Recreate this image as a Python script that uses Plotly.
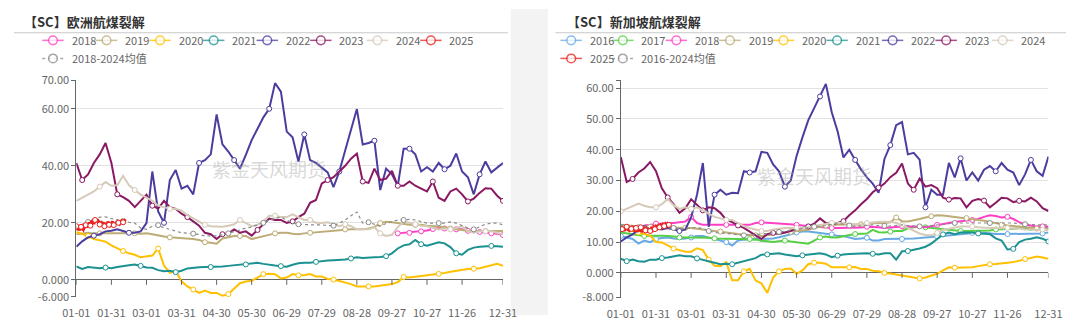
import plotly.graph_objects as go
import pandas as pd

# ---------------- categories / ticks ----------------
categories = pd.date_range("2024-01-01", "2024-12-31").strftime("%m-%d").tolist()
sample_idx = list(range(0, 361, 5)) + [365]
sample_dates = [categories[i] for i in sample_idx]
tick_dates = ["01-01", "01-31", "03-01", "03-31", "04-30", "05-30", "06-29",
              "07-29", "08-28", "09-27", "10-27", "11-26", "12-31"]

left_yticks = [-6, 0, 20, 40, 60, 70]
left_yticktext = ["-6.000", "0.000", "20.00", "40.00", "60.00", "70.00"]
right_yticks = [-8, 0, 10, 20, 30, 40, 50, 60, 62.56]
right_yticktext = ["-8.000", "0.000", "10.00", "20.00", "30.00", "40.00", "50.00", "60.00", ""]

# ---------------- Europe (left) ----------------
eu_2018 = [None] * 55 + [16.3, 16.5, 16.5, 16.8, 17, 17.3, 17.8, 18.2, 18, 17.7,
                         17.7, 17.7, 17.2, 17, 16.8, 16.5, 16.3, 16.2, 15.7]
eu_2019 = [16, 16.2, 16.5, 16.3, 16.3, 16.5, 16.5, 16.3, 16.3, 16.5,
           16.3, 16.2, 16.3, 16, 15.5, 15.2, 14.9, 14.8, 14.6, 14.4,
           14.3, 14, 13.2, 13, 12.7, 14.5, 15, 15.4, 15.4, 15.4,
           14.3, 14.8, 15.2, 15.6, 16.3, 16.5, 16.5, 16.2, 16, 16.3,
           16.5, 16.5, 16.8, 17.1, 17.2, 17.5, 17.7, 17.7, 17.7, 17.7,
           18, 18.5, 19.9, 20.4, 20.2, 19.9, 19.5, 19.3, 19.3, 19.3,
           19, 18.8, 18.6, 18.5, 18, 17.7, 17.5, 17.2, 17.1, 17.1,
           17.1, 17, 17.1, 17.1]
eu_2020 = [16.8, 16.2, 15.4, 14.3, 13.8, 13.4, 12.1, 11, 10.1, 9.3,
           8.8, 7.9, 8.3, 8.5, 11, 5, 2.5, 3.2, -0.5, -2.3,
           -3.4, -4.6, -3.8, -4.6, -4.6, -5.6, -5.0, -3.0, -1.2, -0.6,
           -0.3, 0.8, 2.0, 2.1, 2.0, 0.5, 0.8, 2.0, 1.6, 1.6,
           2.0, 1.2, 1.2, 0.3, 0.1, -0.4, -0.9, -1.5, -2.3, -2.2,
           -2.3, -2.3, -2.1, -1.8, -1.5, -0.8, 1.0, 0.8, 1.0, 1.2,
           1.6, 1.9, 2.1, 2.4, 2.8, 3.2, 3.5, 3.8, 3.9, 4.1,
           4.6, 5.0, 5.6, 4.9]
eu_2021 = [4.7, 3.8, 4.5, 4.3, 4.1, 4.3, 4.1, 4.5, 4.9, 5.1,
           5.4, 4.9, 4.3, 4.2, 3.4, 3.0, 3.2, 2.7, 3.2, 4.0,
           4.3, 4.4, 4.5, 4.5, 4.5, 4.7, 4.9, 5.1, 5.3, 5.4,
           5.8, 6.0, 5.6, 5.2, 5.0, 4.8, 4.6, 5.3, 5.8, 6.0,
           6.0, 6.3, 6.6, 6.8, 6.9, 7.0, 7.1, 7.5, 7.9, 7.7,
           7.7, 7.9, 8.0, 8.3, 9.3, 11, 12.1, 12.5, 14, 12.5,
           12, 12.5, 13.2, 12.8, 11.5, 9.3, 8.8, 10.5, 11.3, 11.6,
           11.8, 11.9, 11.8, 11.6]
eu_2022 = [11.6, 13.5, 14.9, 15.5, 16, 17, 17.2, 17.7, 17, 16.5,
           16.5, 17, 19.9, 38, 24, 20, 35, 38.5, 32, 33,
           30, 41, 42, 44, 58, 47.5, 45, 42, 39, 43.8,
           49, 53, 57, 60, 69, 66, 52, 50, 41.5, 51,
           42, 41, 39.5, 37.7, 32.5, 38, 45.4, 53, 59.9, 47.5,
           48, 48.8, 31.5, 39, 37, 33, 46, 46, 44, 38,
           39.5, 38, 41, 38.8, 40, 44.3, 38, 36, 30, 37,
           41.5, 37.7, 39.5, 41]
eu_2023 = [41, 35, 37, 41, 44, 48, 41, 30, 29, 27.7,
           25.5, 27.7, 29.9, 26, 25, 27.7, 25.5, 24.9, 23.2, 22,
           20.5, 19, 16.5, 16, 14.3, 16, 16.3, 17.7, 16.5, 17,
           15.5, 17.5, 19.5, 21.5, 21, 21, 20, 20.5, 22, 23.2,
           27, 28, 33.8, 35, 36, 38, 40, 42.5, 44.3, 34.5,
           34, 39, 35, 35.5, 38.2, 33, 33, 34.5, 33, 32,
           31, 34.5, 28.8, 27.7, 31, 32, 30, 27.5, 28.5, 30.5,
           32.1, 32, 29.5, 27.7]
eu_2024 = [27.7, 28.8, 29.9, 31, 32.7, 34.3, 33, 33.2, 36.5, 33.2,
           31.5, 29.9, 28.8, 27.7, 26, 25.4, 24.9, 24.9, 24.3, 22.7,
           21.5, 20.4, 19.3, 18.8, 18.8, 18.6, 19, 19.5, 21, 19.9,
           18.8, 19.3, 20.5, 22.5, 22.5, 22, 22, 23, 22, 21,
           21, 20, 19.9, 20.2, 19.5, 18.8, 19.5, 18.8, 17.7, 17.7,
           17.7, 18.5, 16.3, 15.4, 15.8, 18.5, 20.4, 20, 19.5, 19,
           18.8, 18.2, 17.7, 18, 17.7, 18.2, 18.8, 17.1, 16.5, 17,
           17, 17, 16.5, 16]
eu_2025_daily = [18.8, 17.5, 18.2, 17.4, 18.6, 17.9, 17.6, 18.5, 19.2, 18.4,
                 19.5, 20.1, 19.0, 20.5, 20.8, 19.6, 21.0, 20.3, 21.2, 20.0,
                 19.4, 20.6, 19.1, 20.2, 18.8, 19.9, 19.0, 20.4, 19.3, 18.6,
                 19.8, 20.5, 19.2, 20.1, 19.5, 20.6, 20.0, 19.6, 20.4, 20.8,
                 20.2, 21.0, 21.3]
eu_avg = [18.8, 19.5, 20.3, 21, 22, 22.1, 21.5, 21, 20.5, 20.2,
          19.9, 18.2, 17.7, 18.8, 19.2, 18.2, 17.7, 17.1, 16.5, 16.4,
          16.2, 15.9, 15.4, 15.4, 15.4, 15.8, 16.3, 17, 17.5, 18.2,
          18.5, 19.3, 20, 21, 21.5, 22, 21, 19.9, 19.5, 19.3,
          19.3, 19.3, 19.3, 19, 19, 19.9, 21, 22.5, 23.8, 19.9,
          20.2, 19.5, 18.8, 19.8, 20.4, 21, 21, 21.2, 21, 20.5,
          19.9, 19.9, 19.9, 19.9, 20.3, 19.9, 19, 18.2, 17.7, 18.5,
          19.5, 19.9, 19.9, 19.3]

# ---------------- Singapore (right) ----------------
sg_2016 = [12, 11.5, 11, 9.5, 10.5, 10, 11, 11.3, 11.5, 11.2,
           11, 11.2, 11.5, 12, 12, 11.5, 11, 10.5, 10, 8.9,
           10.5, 10.8, 11, 11, 11, 11, 11.2, 11.6, 12, 12.5,
           13.1, 13.4, 13.4, 13.2, 13.1, 12.8, 12.5, 12, 12, 11.5,
           11, 11.2, 11.4, 10.5, 10.5, 11, 11, 11, 11, 11.1,
           11.2, 11.3, 11.4, 11.5, 11.8, 12, 12.2, 12.4, 12.6, 12.8,
           13, 13.1, 13, 12.7, 12.6, 12.6, 12.6, 12.6, 12.6, 12.6,
           12.6, 12.6, 12.8, 13.1]
sg_2017 = [13.1, 12.8, 12.6, 12.3, 12, 12.1, 12.2, 12.1, 12, 11.8,
           11.5, 11.5, 11.5, 11.5, 11.5, 11.4, 11.2, 11.1, 11, 11,
           11, 11, 11, 10.8, 10.5, 10.3, 10, 10.3, 10.5, 10.2,
           10, 9.6, 9.5, 10.5, 11.5, 11.8, 11.5, 11.5, 12, 12.3,
           12.6, 12.6, 12.8, 14, 13.2, 13.1, 13.4, 13.6, 13.6, 14.5,
           14.8, 15.1, 14.8, 14.6, 14.3, 14.1, 13.8, 13.6, 13.6, 13.6,
           13.6, 13.6, 13.6, 13.8, 14.1, 14.1, 14.1, 14.3, 14.6, 14.6,
           14.6, 14.6, 14.6, 14.6]
sg_2018 = [None, None, None, None, 15.4, 15.6, 16, 16.2, 16.2, 16.2,
           16.4, 16.7, 18.2, 16.2, 15.6, 15.6, 15.6, 15.6, 15.6, 15.6,
           15.6, 15.6, 15.6, 16.2, 16.4, 16.3, 16.2, 16, 15.9, 15.7,
           15.6, 15.4, 15.2, 15.2, 15, 14.8, 14.6, 14.6, 14.6, 14.6,
           14.6, 14.7, 15, 15, 14.8, 14.6, 14.8, 15, 15.1, 15.1,
           15.1, 15, 14.8, 15.2, 15.6, 15.9, 16.2, 16.5, 16.8, 17,
           17.2, 17.5, 18.2, 18.7, 18.5, 18, 18.2, 17.5, 16.5, 15.8,
           15.4, 15.1, 15.1, 15.1]
sg_2019 = [15.6, 15.4, 15.2, 15.1, 15.1, 15, 15, 14.8, 14.8, 14.7,
           14.6, 14.6, 14.6, 14.3, 14.1, 13.9, 13.6, 13.4, 13.1, 13,
           12.6, 12.5, 12.4, 12.2, 12, 12.2, 12.6, 12.8, 13.1, 13.3,
           13.6, 13.8, 14, 14.6, 15.1, 15.4, 15.6, 15.6, 15.8, 15.8,
           15.6, 15.8, 16, 16.2, 16.2, 16.2, 16.4, 18, 16.8, 16.7,
           17, 17.5, 18, 18.4, 18.7, 18.6, 18.4, 18.2, 18, 17.8,
           17.5, 17.2, 16.9, 16.5, 16, 15.6, 15.4, 15.2, 15.1, 14.8,
           14.6, 14.4, 14.2, 14.3]
sg_2020 = [14.6, 14.1, 13.6, 13.1, 12.6, 12.1, 10, 9.9, 8.9, 7.9,
           7.4, 6.9, 6.9, 8, 7.4, 4.3, 2.3, 2.2, 3.5, -2.4,
           -2.4, 0.5, 1.3, -2.5, -3.4, -6.5, -1.5, 0.5, 1.3, 1.4,
           -0.3, 0.8, 2.8, 3.3, 3.3, 3.0, 1.8, 1.8, 1.6, 1.8,
           1.9, 1.3, 1.3, 0.7, 0.5, 0, -0.2, -0.5, -0.9, -1.2,
           -1.5, -1.8, -1.5, -1.0, -0.3, 0.8, 1.8, 1.7, 1.7, 1.7,
           1.8, 2.2, 2.6, 2.8, 2.9, 3.0, 3.3, 3.5, 4.0, 4.5,
           4.8, 5.3, 5.0, 4.6]
sg_2021 = [4.6, 3.8, 4.3, 3.8, 3.6, 4.3, 4.3, 4.8, 5.0, 5.4,
           5.7, 5.4, 5.4, 4.7, 4.3, 3.8, 3.3, 2.8, 3.0, 2.8,
           3.3, 3.8, 4.3, 4.8, 5.9, 6.0, 6.2, 6.4, 6.0, 5.6,
           5.4, 5.7, 6.0, 6.2, 6.4, 6.0, 5.1, 5.6, 6.0, 6.1,
           6.2, 6.3, 6.4, 6.2, 6.0, 6.4, 6.4, 4.3, 7.0, 7.1,
           7.4, 7.9, 8.5, 9.5, 11, 12.5, 13.1, 12.6, 13.1, 13.1,
           13.1, 12.8, 12.6, 12.6, 11.2, 10.5, 7.6, 7.8, 10, 10.8,
           11.1, 11.6, 11.1, 10.2]
sg_2022 = [10.2, 11.5, 12.5, 14.1, 14.6, 14.1, 14.6, 14.1, 14.6, 14.1,
           13.6, 14.1, 18, 25.4, 35.7, 15, 25.4, 27, 25.4, 26,
           25.9, 33, 32.6, 33, 39.3, 39, 35.2, 33, 28, 30,
           38, 44, 49.6, 53.5, 57.3, 61.4, 52.2, 46, 37.5, 40,
           36.7, 33.6, 31, 29, 26, 37, 41.5, 48, 49, 38.5,
           39, 36.8, 21.3, 27, 25.4, 25.4, 35.7, 31, 37.2, 30,
           32.6, 30, 33.5, 34.7, 33, 35.7, 33.5, 32.6, 28.5, 32,
           36.7, 33, 31.5, 37.8]
sg_2023 = [37.6, 29.5, 30.5, 32.6, 33.9, 36, 33, 27.5, 24.5, 22.3,
           19.5, 21, 23.9, 22, 20.3, 21.3, 21, 19.5, 17.2, 16.5,
           15.4, 14.6, 13.4, 12.2, 11, 12.6, 13, 12.6, 13, 13.6,
           14.3, 14.8, 15.1, 16, 17.7, 16.2, 15.8, 16.2, 16.8, 18.7,
           20.3, 22.3, 24, 26.2, 27.7, 29, 31.1, 32.5, 35.5, 29,
           27, 30.6, 28, 28.5, 27.5, 24.4, 23.8, 24.3, 24.2, 21.3,
           23.4, 24, 23.5, 21.3, 22.8, 24.4, 24.2, 23, 23.4, 23.2,
           24.4, 23.2, 21, 20.1]
sg_2024 = [20, 20.8, 21.8, 22.5, 21.8, 21.3, 21.3, 22.3, 24, 22,
           20.8, 21.3, 20.8, 21.3, 20.3, 19.2, 18.2, 17.7, 17.2, 17.2,
           16.2, 15.2, 14.6, 14.1, 13.6, 13.6, 14.1, 14.3, 14.6, 14.6,
           14.6, 14.6, 14.8, 15.2, 15.6, 16, 16.2, 16.2, 16.2, 15.8,
           15.6, 15.8, 16.2, 16.4, 16.6, 16.7, 16.6, 16.2, 15.6, 14.6,
           13.8, 12.8, 12.3, 12.2, 13, 14, 14.3, 14.8, 15.1, 15.1,
           15.1, 14.8, 14.6, 14.6, 14.6, 14.6, 14.6, 14.6, 14.4, 14.1,
           14.1, 14.1, 14.1, 13.9]
sg_2025_daily = [15.1, 14.2, 14.8, 13.6, 14.5, 15.0, 14.1, 13.8, 14.9, 14.3,
                 15.2, 14.0, 13.5, 14.6, 13.3, 14.1, 13.9, 14.8, 13.2, 14.4,
                 14.9, 13.8, 14.6, 13.1, 14.0, 13.6, 14.4, 13.9, 14.7, 14.2,
                 15.0, 14.5, 15.3, 14.8, 15.5, 15.0, 15.7, 15.2, 15.9, 15.4,
                 16.0, 15.6, 16.2]
sg_avg = [15.6, 15.2, 15, 14.8, 14.8, 14.6, 14.8, 14.8, 14.6, 14.6,
          14.3, 14.3, 14.6, 14.8, 14.3, 13.6, 13.1, 13, 12.8, 12.6,
          12.3, 12.2, 12.3, 12.4, 12.6, 12.8, 13.1, 13.3, 13.6, 13.8,
          14, 14.4, 14.6, 15, 15.2, 15.4, 15.8, 16.2, 15.8, 15.4,
          15.1, 15.3, 15.4, 15.6, 15.4, 15.3, 15.2, 15.4, 15.6, 15.4,
          15.2, 15.1, 15.1, 15.4, 15.6, 15.8, 16, 16.2, 16.2, 16.2,
          16.2, 16.4, 16.4, 16.2, 16.3, 16.2, 16.3, 16.2, 16, 15.8,
          15.6, 15.6, 15.6, 15.6]

for arr in [eu_2018, eu_2019, eu_2020, eu_2021, eu_2022, eu_2023, eu_2024, eu_avg,
            sg_2016, sg_2017, sg_2018, sg_2019, sg_2020, sg_2021, sg_2022, sg_2023,
            sg_2024, sg_avg]:
    assert len(arr) == len(sample_dates), len(arr)

colors = {
    "2016": "#66a9e4", "2017": "#56cf45", "2018": "#ff3fc6", "2019": "#bdac76",
    "2020": "#ffc000", "2021": "#1b9191", "2022": "#4b3d9f", "2023": "#8a1863",
    "2024": "#d6cab8", "2025": "#e8201f", "avg": "#8a8a8a",
}

FONT = "Noto Sans CJK SC, Noto Sans, sans-serif"
W, H = 1080, 322
fig = go.Figure()


def add_series(name, values, key, xa, ya, dates=None, width=2.0, dash="solid"):
    c = colors[key]
    fig.add_trace(go.Scatter(
        x=dates if dates is not None else sample_dates, y=values, name=name,
        mode="lines+markers", xaxis=xa, yaxis=ya, showlegend=False,
        line=dict(color=c, width=width, dash=dash),
        marker=dict(symbol="circle", size=5, color="white",
                    line=dict(color=c, width=1), maxdisplayed=13),
        connectgaps=False, hoverinfo="skip",
    ))


# left panel
add_series("2018", eu_2018, "2018", "x", "y")
add_series("2019", eu_2019, "2019", "x", "y")
add_series("2020", eu_2020, "2020", "x", "y")
add_series("2021", eu_2021, "2021", "x", "y")
add_series("2022", eu_2022, "2022", "x", "y")
add_series("2023", eu_2023, "2023", "x", "y")
add_series("2024", eu_2024, "2024", "x", "y")
add_series("2018-2024均值", eu_avg, "avg", "x", "y", width=1.2, dash="dot")
add_series("2025", eu_2025_daily, "2025", "x", "y",
           dates=categories[:len(eu_2025_daily)], width=3)

# right panel
add_series("2016", sg_2016, "2016", "x2", "y2")
add_series("2017", sg_2017, "2017", "x2", "y2")
add_series("2018", sg_2018, "2018", "x2", "y2")
add_series("2019", sg_2019, "2019", "x2", "y2")
add_series("2020", sg_2020, "2020", "x2", "y2")
add_series("2021", sg_2021, "2021", "x2", "y2")
add_series("2022", sg_2022, "2022", "x2", "y2")
add_series("2023", sg_2023, "2023", "x2", "y2")
add_series("2024", sg_2024, "2024", "x2", "y2")
add_series("2016-2024均值", sg_avg, "avg", "x2", "y2", width=1.2, dash="dot")
add_series("2025", sg_2025_daily, "2025", "x2", "y2",
           dates=categories[:len(sg_2025_daily)], width=3)

tickfont = dict(family=FONT, size=11, color="#666")
xcommon = dict(type="category", categoryorder="array", categoryarray=categories,
               range=[0, len(categories) - 1], tickmode="array", tickvals=tick_dates,
               showgrid=False, showline=False, zeroline=False, ticks="",
               ticklabelstandoff=8, tickfont=tickfont, fixedrange=True)
ycommon = dict(showgrid=True, gridcolor="#e2e2e2", gridwidth=1, zeroline=True,
               zerolinecolor="#666", zerolinewidth=1, showline=True, linecolor="#666",
               linewidth=1, ticks="outside", ticklen=4, tickcolor="#666",
               tickfont=tickfont, tickmode="array", fixedrange=True)

fig.update_layout(
    width=W, height=H, margin=dict(l=0, r=0, t=0, b=0),
    paper_bgcolor="white", plot_bgcolor="white", font=dict(family=FONT),
    showlegend=False,
    xaxis=dict(domain=[64 / W, 502 / W], anchor="y", **xcommon),
    yaxis=dict(domain=[1 - 303 / H, 1 - 75 / H], anchor="x", range=[-6, 70],
               tickvals=left_yticks, ticktext=left_yticktext, **ycommon),
    xaxis2=dict(domain=[623 / W, 1062 / W], anchor="y2", **xcommon),
    yaxis2=dict(domain=[1 - 303.6 / H, 1 - 75 / H], anchor="x2", range=[-8, 62.56],
                tickvals=right_yticks, ticktext=right_yticktext, **ycommon),
)

shapes = [
    dict(type="rect", xref="paper", yref="paper", x0=510 / W, x1=548 / W, y0=0, y1=1,
         fillcolor="#f3f3f3", line=dict(width=0), layer="below"),
    dict(type="line", xref="paper", yref="paper", x0=0, x1=507 / W,
         y0=1 - 25 / H, y1=1 - 25 / H, line=dict(color="#c8c8c8", width=1)),
    dict(type="line", xref="paper", yref="paper", x0=556 / W, x1=1,
         y0=1 - 25 / H, y1=1 - 25 / H, line=dict(color="#c8c8c8", width=1)),
]
for xa, ya in [("x", "y"), ("x2", "y2")]:
    for d in tick_dates:
        i = categories.index(d)
        shapes.append(dict(type="line", xref=xa, yref=ya, x0=i, x1=i,
                           ysizemode="pixel", yanchor=0, y0=0, y1=-5,
                           line=dict(color="#666", width=1)))

annotations = [
    dict(text="<b>【SC】欧洲航煤裂解</b>", xref="paper", yref="paper", x=8 / W, y=1 - 13 / H,
         xanchor="left", yanchor="middle", showarrow=False,
         font=dict(family=FONT, size=13, color="#333")),
    dict(text="<b>【SC】新加坡航煤裂解</b>", xref="paper", yref="paper", x=566 / W, y=1 - 13 / H,
         xanchor="left", yanchor="middle", showarrow=False,
         font=dict(family=FONT, size=13, color="#333")),
    dict(text="紫金天风期货", xref="paper", yref="paper", x=262 / W, y=1 - 168 / H,
         xanchor="center", yanchor="middle", showarrow=False,
         font=dict(family=FONT, size=19, color="rgba(170,170,170,0.45)")),
    dict(text="紫金天风期货", xref="paper", yref="paper", x=821 / W, y=1 - 175 / H,
         xanchor="center", yanchor="middle", showarrow=False,
         font=dict(family=FONT, size=19, color="rgba(170,170,170,0.45)")),
]

# ---------------- custom legends (icon centre px, row y px) ----------------
legend_items = [
    ("2018", "2018", 40, 33), ("2019", "2019", 95, 33), ("2020", "2020", 150, 33),
    ("2021", "2021", 205, 33), ("2022", "2022", 260, 33), ("2023", "2023", 315, 33),
    ("2024", "2024", 373, 33), ("2025", "2025", 428, 33), ("2018-2024均值", "avg", 40, 52),
    ("2016", "2016", 572, 33), ("2017", "2017", 625, 33), ("2018", "2018", 680, 33),
    ("2019", "2019", 735, 33), ("2020", "2020", 790, 33), ("2021", "2021", 845, 33),
    ("2022", "2022", 902, 33), ("2023", "2023", 957, 33), ("2024", "2024", 1015, 33),
    ("2025", "2025", 572, 52), ("2016-2024均值", "avg", 625, 52),
]
for label, key, cx, cy in legend_items:
    c = colors[key]
    dash = "dot" if key == "avg" else "solid"
    shapes.append(dict(type="line", xref="paper", yref="paper",
                       x0=(cx - 11) / W, x1=(cx + 11) / W, y0=1 - cy / H, y1=1 - cy / H,
                       line=dict(color=c, width=1.5, dash=dash), opacity=0.75))
    shapes.append(dict(type="circle", xref="paper", yref="paper",
                       x0=(cx - 4.5) / W, x1=(cx + 4.5) / W,
                       y0=1 - (cy + 4.5) / H, y1=1 - (cy - 4.5) / H,
                       fillcolor="white", line=dict(color=c, width=1.5), opacity=0.75))
    annotations.append(dict(text=label, xref="paper", yref="paper", x=(cx + 17) / W,
                            y=1 - cy / H, xanchor="left", yanchor="middle", showarrow=False,
                            font=dict(family=FONT, size=11, color="#666")))

fig.update_layout(shapes=shapes, annotations=annotations)
fig.write_html("out.html")
